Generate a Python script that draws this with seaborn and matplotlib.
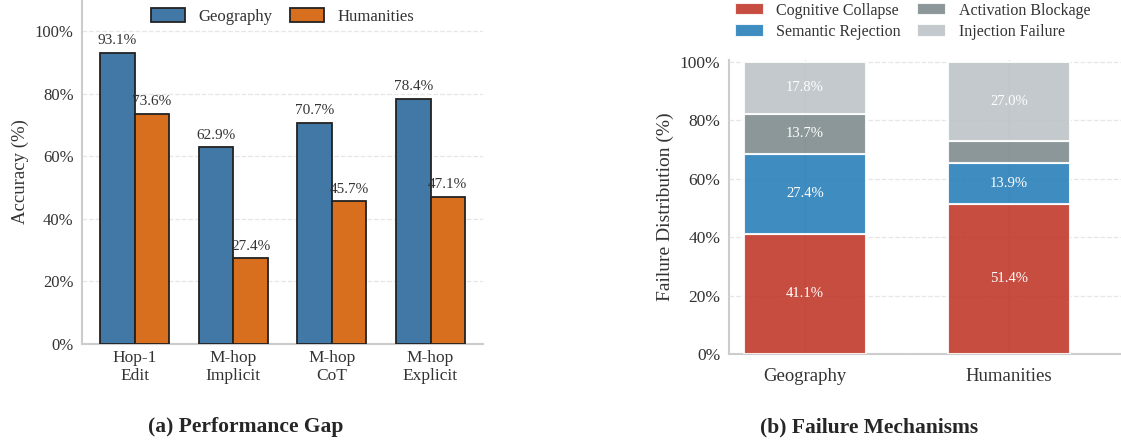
import matplotlib
matplotlib.use("Agg")
import matplotlib.pyplot as plt
import seaborn as sns
import pandas as pd
import numpy as np
from matplotlib.ticker import PercentFormatter

# ---- data ----
settings = ["Hop-1\nEdit", "M-hop\nImplicit", "M-hop\nCoT", "M-hop\nExplicit"]
geography_acc = [93.1, 62.9, 70.7, 78.4]
humanities_acc = [73.6, 27.4, 45.7, 47.1]

domains = ["Geography", "Humanities"]
mechanisms = ["Cognitive Collapse", "Semantic Rejection", "Activation Blockage", "Injection Failure"]
cognitive_collapse = [41.1, 51.4]
semantic_rejection = [27.4, 13.9]
activation_blockage = [13.7, 7.7]
injection_failure = [17.8, 27.0]

# ---- style ----
sns.set_theme(style="whitegrid")
plt.rcParams["font.family"] = ["Liberation Serif", "DejaVu Serif"]
plt.rcParams["mathtext.fontset"] = "stix"

fig = plt.figure(figsize=(11.21, 4.45), dpi=100)
ax1 = fig.add_axes([0.0731, 0.227, 0.358, 0.773])
ax2 = fig.add_axes([0.650, 0.2045, 0.350, 0.660])

spine_color = "#cccccc"
grid_kw = dict(color="#e6e6e6", linestyle="--", linewidth=0.9)

# ---- (a) accuracy by setting ----
acc_df = pd.DataFrame({
    "Setting": settings * 2,
    "Accuracy": geography_acc + humanities_acc,
    "Domain": ["Geography"] * len(settings) + ["Humanities"] * len(settings),
})
sns.barplot(data=acc_df, x="Setting", y="Accuracy", hue="Domain",
            palette={"Geography": "#4178A6", "Humanities": "#D86F1E"},
            width=0.7, edgecolor="#222222", linewidth=1.3, saturation=1,
            errorbar=None, ax=ax1, zorder=3)
for cont in ax1.containers:
    ax1.bar_label(cont, labels=[f"{v:.1f}%" for v in cont.datavalues],
                  padding=4, fontsize=11, color="#333333")
ax1.set_ylim(0, 110)
ax1.set_xlim(-0.535, 3.535)
ax1.set_yticks([0, 20, 40, 60, 80, 100])
ax1.yaxis.set_major_formatter(PercentFormatter(decimals=0))
ax1.set_xlabel("")
ax1.set_ylabel("Accuracy (%)", fontsize=13.5, color="#333333")
ax1.tick_params(axis="y", labelsize=12, colors="#333333", length=0, pad=6)
ax1.tick_params(axis="x", labelsize=12.5, colors="#333333", length=0, pad=4)
ax1.grid(False)
ax1.yaxis.grid(True, **grid_kw)
ax1.set_axisbelow(True)
for s in ["top", "right"]:
    ax1.spines[s].set_visible(False)
for s in ["left", "bottom"]:
    ax1.spines[s].set_color(spine_color)
    ax1.spines[s].set_linewidth(1.5)
leg1 = ax1.legend(loc="upper center", bbox_to_anchor=(0.5, 1.02), ncol=2,
                  frameon=False, fontsize=12, handlelength=2.0,
                  handleheight=0.9, columnspacing=1.1, handletextpad=0.8)
for t in leg1.get_texts():
    t.set_color("#333333")

# ---- (b) stacked failure distribution ----
mech_values = [cognitive_collapse, semantic_rejection, activation_blockage, injection_failure]
mech_colors = ["#C0392B", "#2980B9", "#7F8C8D", "#BDC3C7"]
bottom = np.zeros(len(domains))
for name, vals, col in zip(mechanisms, mech_values, mech_colors):
    seg_df = pd.DataFrame({"Domain": domains, "Share": vals})
    sns.barplot(data=seg_df, x="Domain", y="Share", color=col, saturation=1,
                alpha=0.9, width=0.6, edgecolor="white", linewidth=1.5,
                errorbar=None, bottom=bottom, label=name, ax=ax2, zorder=3)
    for i, v in enumerate(vals):
        if v >= 10:
            ax2.text(i, bottom[i] + v / 2, f"{v:.1f}%", ha="center", va="center",
                     color="white", fontsize=10.5, zorder=5)
    bottom = bottom + np.array(vals)

ax2.set_ylim(0, 100.5)
ax2.set_xlim(-0.375, 1.55)
ax2.set_yticks([0, 20, 40, 60, 80, 100])
ax2.yaxis.set_major_formatter(PercentFormatter(decimals=0))
ax2.set_xlabel("")
ax2.set_ylabel("Failure Distribution (%)", fontsize=14, color="#333333")
ax2.tick_params(axis="y", labelsize=12.5, colors="#333333", length=0, pad=6)
ax2.tick_params(axis="x", labelsize=13.5, colors="#333333", length=0, pad=10)
ax2.grid(True, **grid_kw)
ax2.xaxis.grid(True, color="#d8d8d8", linestyle="-", linewidth=0.8)
ax2.set_axisbelow(False)
for s in ["top", "right"]:
    ax2.spines[s].set_visible(False)
for s in ["left", "bottom"]:
    ax2.spines[s].set_color(spine_color)
    ax2.spines[s].set_linewidth(1.5)
handles, labels = ax2.get_legend_handles_labels()
if ax2.get_legend() is not None:
    ax2.get_legend().remove()
leg2 = fig.legend(handles, labels, loc="center", bbox_to_anchor=(0.814, 0.952),
                  ncol=2, frameon=False, fontsize=11.5, handlelength=1.8,
                  handleheight=0.8, columnspacing=1.0, handletextpad=0.8,
                  labelspacing=0.35)
for t in leg2.get_texts():
    t.set_color("#333333")

# ---- panel captions ----
fig.text(0.2195, 0.040, "(a) Performance Gap", ha="center", va="center",
         fontsize=15.5, fontweight="bold")
fig.text(0.775, 0.040, "(b) Failure Mechanisms", ha="center", va="center",
         fontsize=15.5, fontweight="bold")

fig.savefig("out.png", dpi=100)
